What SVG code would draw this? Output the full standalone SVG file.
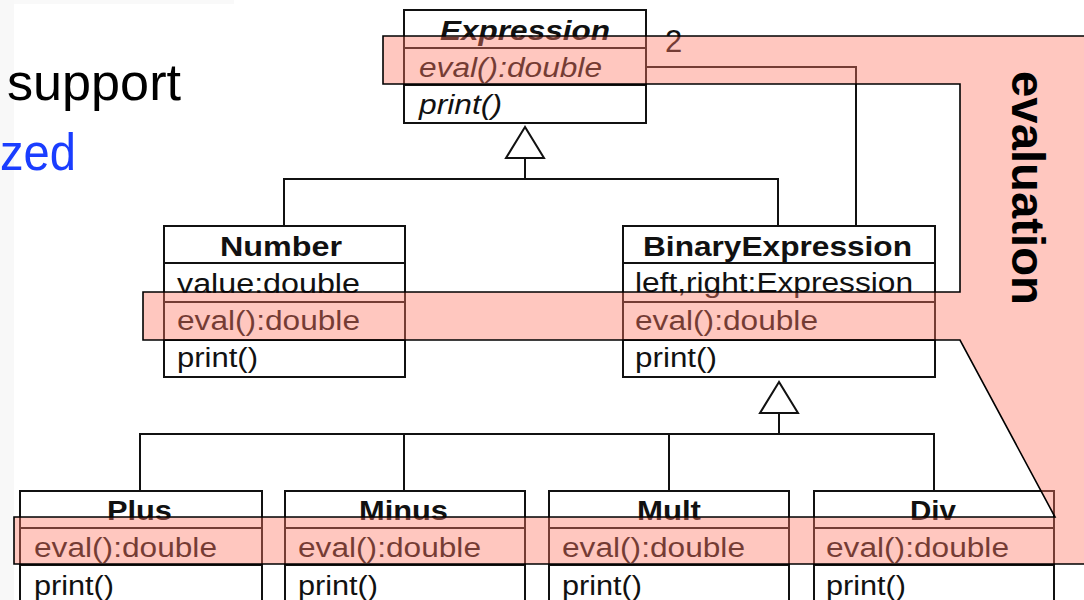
<svg xmlns="http://www.w3.org/2000/svg" width="1084" height="600" viewBox="0 0 1084 600">
<style>
.t{font-family:"Liberation Sans",Arial,Helvetica,sans-serif;font-size:27px;fill:#111}
.b{font-weight:bold}
.i{font-style:italic}
.box{fill:#fff;stroke:#111;stroke-width:2}
.div{stroke:#111;stroke-width:2;fill:none}
.con{stroke:#111;stroke-width:2;fill:none}
.tri{fill:#fff;stroke:#111;stroke-width:2;stroke-linejoin:miter}
.slide{font-family:"Liberation Sans",Arial,Helvetica,sans-serif;font-size:52px}
</style>
<rect x="0" y="0" width="1084" height="600" fill="#fff"/>
<rect x="0" y="0" width="14" height="600" fill="#f8f8f8"/>
<rect x="14" y="0" width="220" height="4" fill="#f9f9f9"/>
<text class="slide" x="7" y="100" fill="#000" textLength="174" lengthAdjust="spacingAndGlyphs">support</text>
<text class="slide" x="0" y="170" fill="#1a3dff" textLength="76" lengthAdjust="spacingAndGlyphs">zed</text>

<g id="connectors">
<polyline class="con" points="525,158 525,179"/>
<polyline class="con" points="284,226 284,179 778,179 778,226"/>
<polyline class="con" points="646,67 856,67 856,226"/>
<polyline class="con" points="779,413 779,434"/>
<polyline class="con" points="140,491 140,434 934,434 934,491"/>
<polyline class="con" points="404,434 404,491"/>
<polyline class="con" points="669,434 669,491"/>
<polygon class="tri" points="525,127 506,158 544,158"/>
<polygon class="tri" points="779,382 760,413 798,413"/>
<text class="t" x="665" y="52" style="font-size:31px">2</text>
</g>

<g id="Expression">
<rect class="box" x="404" y="10" width="242" height="113"/>
<line class="div" x1="404" y1="48" x2="646" y2="48"/>
<line class="div" x1="404" y1="85" x2="646" y2="85"/>
<text class="t b i" x="440" y="40" textLength="170" lengthAdjust="spacingAndGlyphs">Expression</text>
<text class="t i" x="419" y="77" textLength="183" lengthAdjust="spacingAndGlyphs">eval():double</text>
<text class="t i" x="419" y="114" textLength="83" lengthAdjust="spacingAndGlyphs">print()</text>
</g>

<g id="Number">
<rect class="box" x="164" y="226" width="241" height="151"/>
<line class="div" x1="164" y1="263" x2="405" y2="263"/>
<line class="div" x1="164" y1="302" x2="405" y2="302"/>
<line class="div" x1="164" y1="340" x2="405" y2="340"/>
<text class="t b" x="220" y="256" textLength="122" lengthAdjust="spacingAndGlyphs">Number</text>
<text class="t" x="177" y="293" textLength="183" lengthAdjust="spacingAndGlyphs">value:double</text>
<text class="t" x="177" y="330" textLength="183" lengthAdjust="spacingAndGlyphs">eval():double</text>
<text class="t" x="177" y="367" textLength="81" lengthAdjust="spacingAndGlyphs">print()</text>
</g>

<g id="BinaryExpression">
<rect class="box" x="623" y="226" width="312" height="151"/>
<line class="div" x1="623" y1="263" x2="935" y2="263"/>
<line class="div" x1="623" y1="302" x2="935" y2="302"/>
<line class="div" x1="623" y1="340" x2="935" y2="340"/>
<text class="t b" x="643" y="256" textLength="269" lengthAdjust="spacingAndGlyphs">BinaryExpression</text>
<text class="t" x="635" y="292" textLength="278" lengthAdjust="spacingAndGlyphs">left,right:Expression</text>
<text class="t" x="635" y="330" textLength="183" lengthAdjust="spacingAndGlyphs">eval():double</text>
<text class="t" x="635" y="367" textLength="82" lengthAdjust="spacingAndGlyphs">print()</text>
</g>

<g id="Plus">
<rect class="box" x="20" y="491" width="242" height="130"/>
<line class="div" x1="20" y1="528" x2="262" y2="528"/>
<line class="div" x1="20" y1="565" x2="262" y2="565"/>
<text class="t b" x="107" y="520" textLength="65" lengthAdjust="spacingAndGlyphs">Plus</text>
<text class="t" x="34" y="557" textLength="183" lengthAdjust="spacingAndGlyphs">eval():double</text>
<text class="t" x="34" y="595" textLength="80" lengthAdjust="spacingAndGlyphs">print()</text>
</g>

<g id="Minus">
<rect class="box" x="285" y="491" width="240" height="130"/>
<line class="div" x1="285" y1="528" x2="525" y2="528"/>
<line class="div" x1="285" y1="565" x2="525" y2="565"/>
<text class="t b" x="359" y="520" textLength="89" lengthAdjust="spacingAndGlyphs">Minus</text>
<text class="t" x="298" y="557" textLength="183" lengthAdjust="spacingAndGlyphs">eval():double</text>
<text class="t" x="298" y="595" textLength="80" lengthAdjust="spacingAndGlyphs">print()</text>
</g>

<g id="Mult">
<rect class="box" x="549" y="491" width="240" height="130"/>
<line class="div" x1="549" y1="528" x2="789" y2="528"/>
<line class="div" x1="549" y1="565" x2="789" y2="565"/>
<text class="t b" x="637" y="520" textLength="64" lengthAdjust="spacingAndGlyphs">Mult</text>
<text class="t" x="562" y="557" textLength="183" lengthAdjust="spacingAndGlyphs">eval():double</text>
<text class="t" x="562" y="595" textLength="80" lengthAdjust="spacingAndGlyphs">print()</text>
</g>

<g id="Div">
<rect class="box" x="814" y="491" width="240" height="130"/>
<line class="div" x1="814" y1="528" x2="1054" y2="528"/>
<line class="div" x1="814" y1="565" x2="1054" y2="565"/>
<text class="t b" x="910" y="520" textLength="46" lengthAdjust="spacingAndGlyphs">Div</text>
<text class="t" x="826" y="557" textLength="183" lengthAdjust="spacingAndGlyphs">eval():double</text>
<text class="t" x="826" y="595" textLength="80" lengthAdjust="spacingAndGlyphs">print()</text>
</g>

<g id="evaluation-highlight">
<path d="M383,36 L1092,36 L1092,564 L14,564 L14,517 L1055,517 L960,340 L143,340 L143,292 L960,292 L960,84 L383,84 Z" fill="#ff7a66" fill-opacity="0.42" stroke="#000" stroke-width="1.6" stroke-linejoin="miter"/>
<text transform="translate(1012,71) rotate(90)" font-family="Liberation Sans, Arial, Helvetica, sans-serif" font-weight="bold" font-size="47" fill="#000" textLength="234" lengthAdjust="spacingAndGlyphs">evaluation</text>
</g>
</svg>
